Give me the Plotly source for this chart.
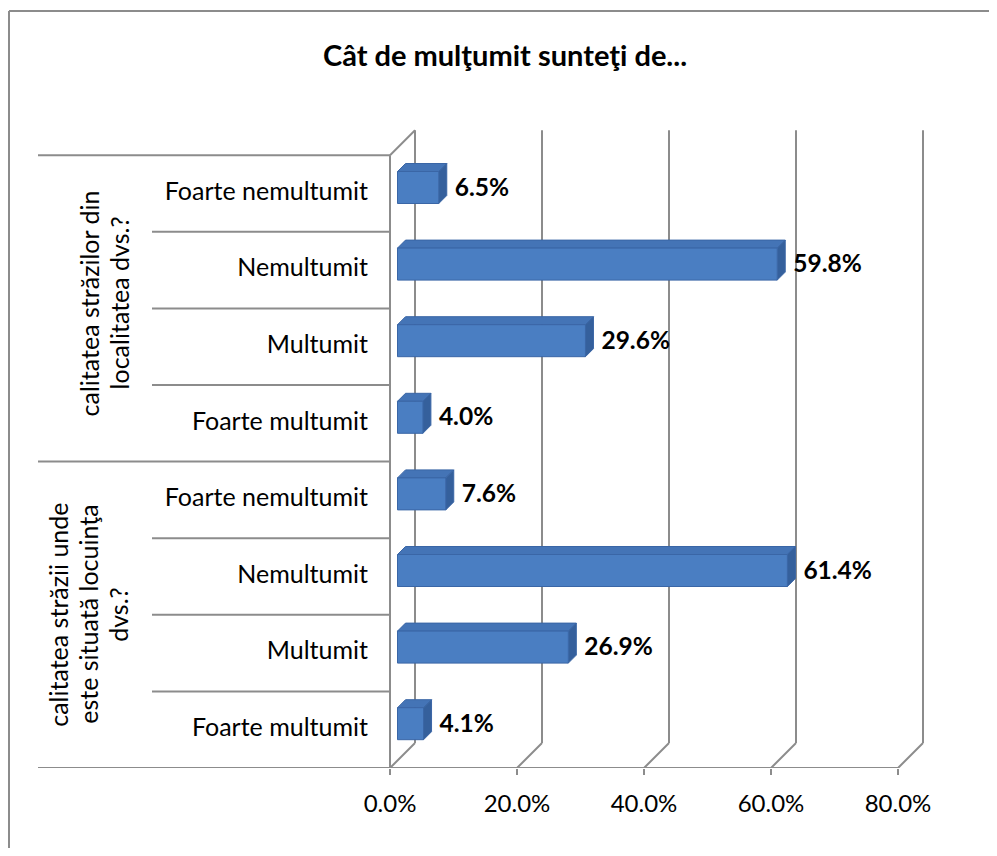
import plotly.graph_objects as go

# data (bottom to top, as drawn)
categories = [
    "Foarte multumit", "Multumit", "Nemultumit", "Foarte nemultumit",
    "Foarte multumit", "Multumit", "Nemultumit", "Foarte nemultumit",
]
values = [4.1, 26.9, 61.4, 7.6, 4.0, 29.6, 59.8, 6.5]
groups = [
    ["calitatea străzii unde", "este situată locuinţa", "dvs.?"],
    ["calitatea străzilor din", "localitatea dvs.?"],
]
x_ticks = [0, 20, 40, 60, 80]
title = "Cât de mulţumit sunteţi de..."

# the page body has an 8px margin, so the figure is drawn 8px in
OFF = 8
W, H = 997 - 2 * OFF, 856 - 2 * OFF
PX_X = 6.35      # pixels per percent
PX_Y = 76.6      # pixels per category
X0, Y0 = 390 - OFF, 768 - OFF
FONT = "Lato"
GRID = "#8c8c8c"

# full 3D depth expressed in axis units
DX, DY = 25 / PX_X, 25 / PX_Y

fig = go.Figure()


def depth(f):
    return DX * f, DY * f


def px_x(p):
    # page pixel -> x axis value
    return (p - OFF - X0) / PX_X


# back wall gridlines + floor diagonals
gx, gy = [], []
for t in x_ticks:
    gx += [t + DX, t + DX, None, t, t + DX, None]
    gy += [DY, len(categories) + DY, None, 0, DY, None]
gx += [0, DX, None]
gy += [len(categories), len(categories) + DY, None]
fig.add_trace(go.Scatter(x=gx, y=gy, mode="lines", line=dict(color=GRID, width=2),
                         hoverinfo="skip", showlegend=False))

# category separators on the left and front axis lines
sx, sy = [], []
for i in range(len(categories) + 1):
    start = px_x(38) if i % 4 == 0 else px_x(152)
    sx += [start, 0, None]
    sy += [i, i, None]
sx += [0, 0, None, 0, x_ticks[-1], None]
sy += [0, len(categories), None, 0, 0, None]
fig.add_trace(go.Scatter(x=sx, y=sy, mode="lines", line=dict(color=GRID, width=2),
                         hoverinfo="skip", showlegend=False))

# 3D bars
f_front, f_back = 0.3, 0.62
bar_h = 32 / PX_Y
shift = 6 / PX_Y
fx, fy, tx, ty, rx, ry = [], [], [], [], [], []
ox, oy = depth(f_front)
bx, by = depth(f_back - f_front)
for i, v in enumerate(values):
    x1, x2 = ox, ox + v
    yc = i + 0.5 + shift
    y1, y2 = yc - bar_h / 2, yc + bar_h / 2
    fx += [x1, x2, x2, x1, x1, None]
    fy += [y1, y1, y2, y2, y1, None]
    tx += [x1, x2, x2 + bx, x1 + bx, x1, None]
    ty += [y2, y2, y2 + by, y2 + by, y2, None]
    rx += [x2, x2 + bx, x2 + bx, x2, x2, None]
    ry += [y1, y1 + by, y2 + by, y2, y1, None]

for xs, ys, col in [(tx, ty, "#4474b6"), (rx, ry, "#35609c"), (fx, fy, "#4a7ec2")]:
    fig.add_trace(go.Scatter(x=xs, y=ys, mode="lines", fill="toself", fillcolor=col,
                             line=dict(color="#3a66a6", width=1),
                             hoverinfo="skip", showlegend=False))

# value labels
fig.add_trace(go.Scatter(
    x=[v + depth(f_back)[0] + 8 / PX_X for v in values],
    y=[i + 0.5 + 4 / PX_Y for i in range(len(values))],
    mode="text", text=[f"<b>{v:.1f}%</b>" for v in values],
    textposition="middle right",
    textfont=dict(family=FONT, size=24.5, color="#000000"),
    hoverinfo="skip", showlegend=False, cliponaxis=False,
))

# category labels
fig.add_trace(go.Scatter(
    x=[px_x(368)] * len(categories),
    y=[i + 0.5 for i in range(len(categories))],
    mode="text", text=categories, textposition="middle left",
    textfont=dict(family=FONT, size=25, color="#000000"),
    hoverinfo="skip", showlegend=False, cliponaxis=False,
))

# group labels, one annotation per line for Excel-like line spacing
annotations = []
centers = [88, 104]
for g, lines in enumerate(groups):
    n = len(lines)
    for k, line in enumerate(lines):
        annotations.append(dict(
            x=px_x(centers[g] + (k - (n - 1) / 2) * 30), y=g * 4 + 2 + 5 / PX_Y * g,
            xref="x", yref="y",
            text=line, textangle=-90, showarrow=False,
            font=dict(family=FONT, size=25, color="#000000"),
        ))

fig.update_layout(
    width=W, height=H,
    margin=dict(l=0, r=0, t=0, b=0),
    paper_bgcolor="white", plot_bgcolor="white",
    title=dict(text=f"<b>{title}</b>", x=(505 - OFF) / W, y=1 - (56 - OFF) / H,
               xanchor="center", yanchor="middle",
               font=dict(family=FONT, size=29, color="#000000")),
    xaxis=dict(
        domain=[0, 1], range=[-X0 / PX_X, (W - X0) / PX_X],
        tickvals=x_ticks, ticktext=[f"{t:.1f}%" for t in x_ticks],
        ticks="outside", ticklen=6, tickwidth=2, tickcolor=GRID,
        showgrid=False, zeroline=False, showline=False,
        tickfont=dict(family=FONT, size=24, color="#000000"),
        ticklabelstandoff=8,
    ),
    yaxis=dict(
        domain=[(H - Y0) / H, 1], range=[0, Y0 / PX_Y],
        showticklabels=False, ticks="", showgrid=False, zeroline=False, showline=False,
    ),
    annotations=annotations,
    shapes=[
        dict(type="line", xref="paper", yref="paper", x0=1 / W, x1=1 / W, y0=0, y1=1 - 3 / H,
             line=dict(color=GRID, width=2)),
        dict(type="line", xref="paper", yref="paper", x0=1 / W, x1=1, y0=1 - 3 / H, y1=1 - 3 / H,
             line=dict(color=GRID, width=2)),
    ],
)

fig.write_html("out.html")
